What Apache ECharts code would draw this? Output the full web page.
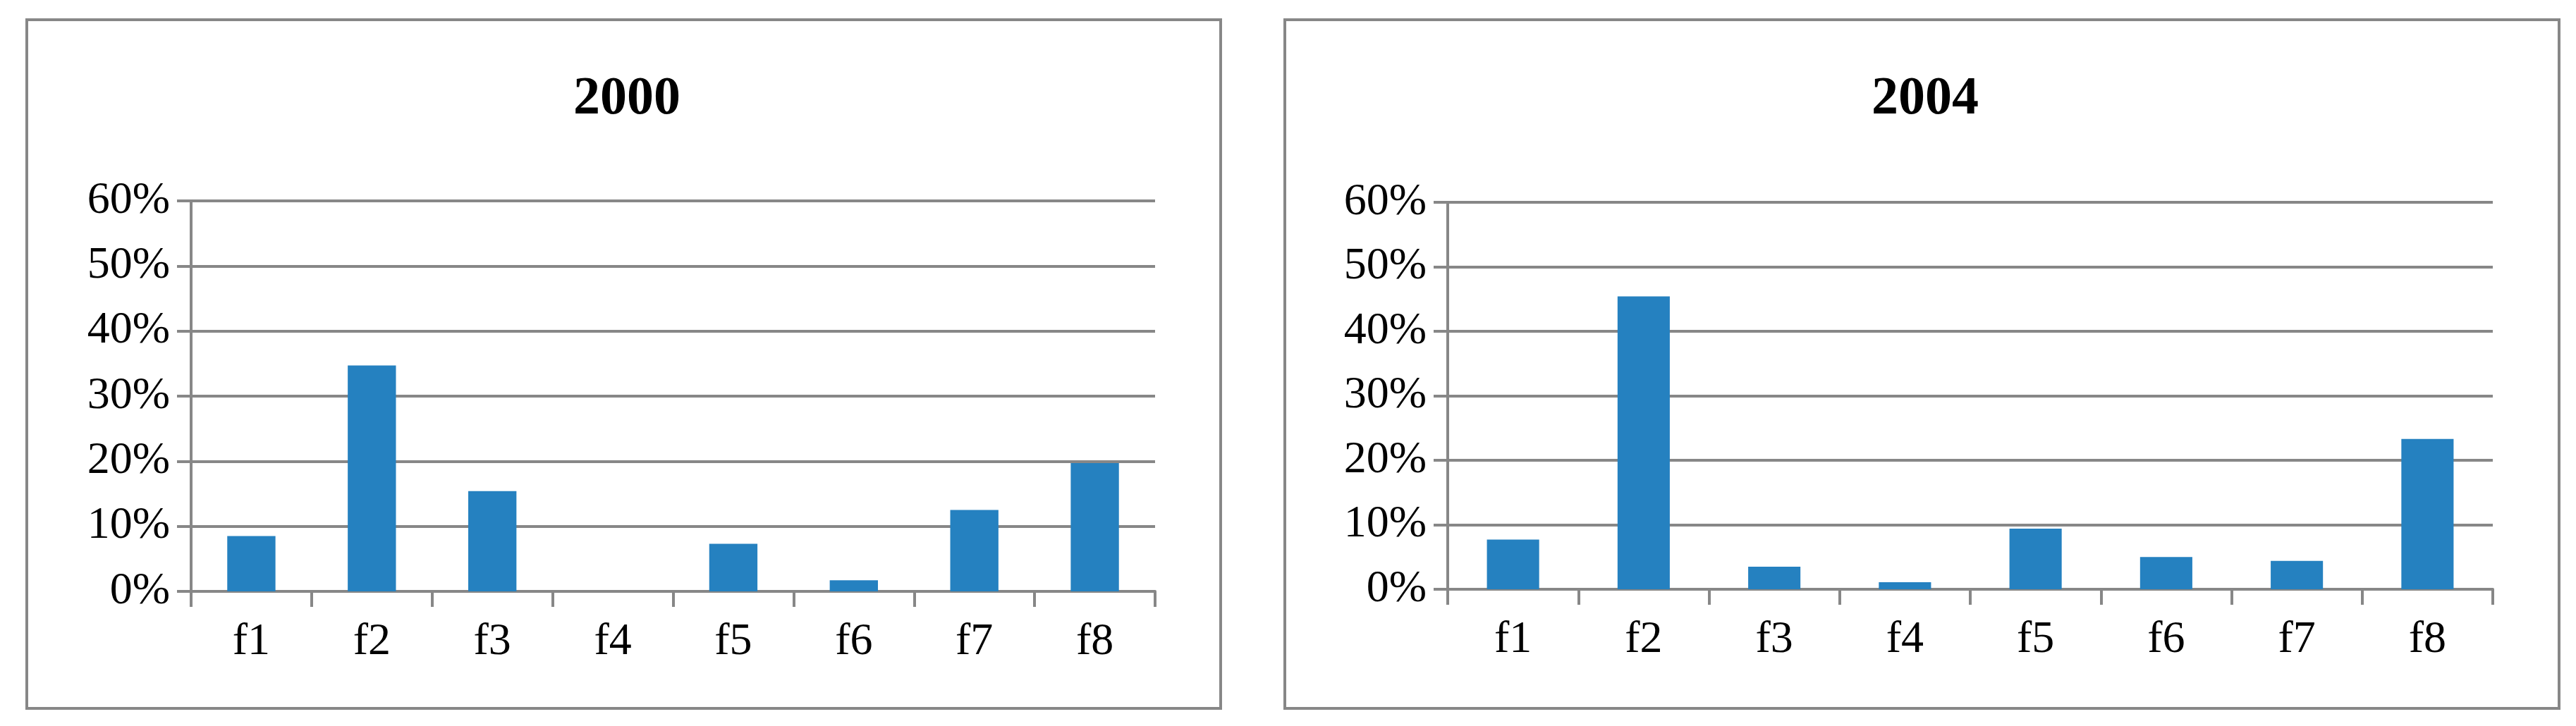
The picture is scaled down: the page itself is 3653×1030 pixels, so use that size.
<!DOCTYPE html>
<html>
<head>
<meta charset="utf-8">
<style>html,body{margin:0;padding:0;background:#fff}#chart{width:3653px;height:1030px}</style>
</head>
<body>
<div id="chart"></div>
<script src="https://cdn.jsdelivr.net/npm/echarts@6/dist/echarts.min.js"></script>
<script type="text/javascript">
var categories = ['f1', 'f2', 'f3', 'f4', 'f5', 'f6', 'f7', 'f8'];
var values2000 = [8.5, 34.7, 15.4, 0, 7.3, 1.7, 12.5, 19.7];
var values2004 = [7.7, 45.4, 3.5, 1.1, 9.4, 5.0, 4.4, 23.3];
var titles = ['2000', '2004'];

var chart = echarts.init(document.getElementById('chart'));
var grey = '#878787';
var font = 'Liberation Serif';

function xAxis(i) {
    return {
        type: 'category', gridIndex: i, data: categories,
        axisLine: {lineStyle: {color: grey, width: 4}},
        axisTick: {show: true, length: 22, lineStyle: {color: grey, width: 4}},
        axisLabel: {color: '#000', fontFamily: font, fontSize: 64, margin: 40}
    };
}
function yAxis(i) {
    return {
        type: 'value', gridIndex: i, min: 0, max: 60, interval: 10,
        axisLine: {show: true, lineStyle: {color: grey, width: 4}},
        axisTick: {show: true, length: 20, inside: false, lineStyle: {color: grey, width: 4}},
        splitLine: {lineStyle: {color: grey, width: 4}},
        axisLabel: {color: '#000', fontFamily: font, fontSize: 64, margin: 30, formatter: '{value}%'}
    };
}

var option = {
    animation: false,
    backgroundColor: '#fff',
    graphic: [
        {type: 'rect', shape: {x: 38, y: 28, width: 1693, height: 977}, style: {fill: 'none', stroke: grey, lineWidth: 4}},
        {type: 'rect', shape: {x: 1822, y: 28, width: 1807, height: 977}, style: {fill: 'none', stroke: grey, lineWidth: 4}}
    ],
    title: [
        {text: titles[0], left: 884, top: 98, textAlign: 'center', textStyle: {fontFamily: font, fontSize: 76, fontWeight: 'bold', color: '#000'}},
        {text: titles[1], left: 2725, top: 98, textAlign: 'center', textStyle: {fontFamily: font, fontSize: 76, fontWeight: 'bold', color: '#000'}}
    ],
    grid: [
        {left: 271, top: 285, width: 1367, height: 554},
        {left: 2053, top: 287, width: 1482, height: 549}
    ],
    xAxis: [xAxis(0), xAxis(1)],
    yAxis: [yAxis(0), yAxis(1)],
    series: [
        {type: 'bar', xAxisIndex: 0, yAxisIndex: 0, data: values2000, barCategoryGap: '60%', itemStyle: {color: '#2581c0'}},
        {type: 'bar', xAxisIndex: 1, yAxisIndex: 1, data: values2004, barCategoryGap: '60%', itemStyle: {color: '#2581c0'}}
    ]
};
chart.setOption(option);
</script>
</body>
</html>
